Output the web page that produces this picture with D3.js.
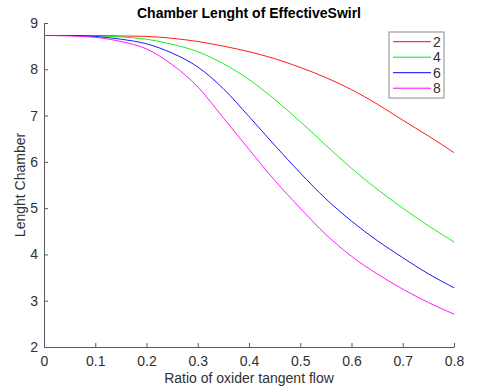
<!DOCTYPE html>
<html>
<head>
<meta charset="utf-8">
<script src="https://cdn.jsdelivr.net/npm/d3@7"></script>
<style>
    body { margin: 0; background: #fff; }
    #chart text { font-family: "Liberation Sans", Arial, sans-serif; fill: #303030; }
    .axis path, .axis line { stroke: #5a5a5a; stroke-width: 1; }
    .line { fill: none; stroke-width: 0.9; }
</style>
</head>
<body>
<div id="chart"></div>
<script>
// Chart data
const ratios = [0, 0.05, 0.1, 0.15, 0.2, 0.25, 0.3, 0.35, 0.4, 0.45, 0.5, 0.55, 0.6, 0.65, 0.7, 0.75, 0.8];
const swirl2 = [8.73, 8.73, 8.73, 8.72, 8.71, 8.67, 8.60, 8.50, 8.38, 8.23, 8.04, 7.82, 7.56, 7.25, 6.90, 6.56, 6.20];
const swirl4 = [8.73, 8.73, 8.72, 8.70, 8.65, 8.54, 8.38, 8.12, 7.78, 7.35, 6.87, 6.36, 5.86, 5.41, 5.00, 4.62, 4.27];
const swirl6 = [8.73, 8.73, 8.71, 8.65, 8.55, 8.35, 8.05, 7.58, 6.98, 6.36, 5.76, 5.20, 4.72, 4.30, 3.93, 3.58, 3.28];
const swirl8 = [8.73, 8.72, 8.69, 8.60, 8.44, 8.10, 7.62, 6.95, 6.27, 5.60, 5.00, 4.43, 3.96, 3.58, 3.25, 2.96, 2.71];
const seriesNames = ["2", "4", "6", "8"];
const seriesColors = ["#ff0000", "#00ee00", "#0000ff", "#ff00ff"];
const xTicks = [0, 0.1, 0.2, 0.3, 0.4, 0.5, 0.6, 0.7, 0.8];
const xTickLabels = ["0", "0.1", "0.2", "0.3", "0.4", "0.5", "0.6", "0.7", "0.8"];
const yTicks = [2, 3, 4, 5, 6, 7, 8, 9];
const yTickLabels = ["2", "3", "4", "5", "6", "7", "8", "9"];

const Chart = (function(d3) {
    const svgWidth = 483,
        svgHeight = 390;
    const margin = { top: 23, right: 29, bottom: 43, left: 44 };
    const width = svgWidth - margin.left - margin.right,
        height = svgHeight - margin.top - margin.bottom;

    const allSeries = [swirl2, swirl4, swirl6, swirl8].map(function(vals, i) {
        return {
            name: seriesNames[i],
            color: seriesColors[i],
            values: vals.map(function(v, j) { return { x: ratios[j], y: v }; })
        };
    });

    const svg = d3.select("#chart")
        .append("svg")
        .attr("width", svgWidth)
        .attr("height", svgHeight);

    const g = svg.append("g")
        .attr("transform", `translate(${margin.left},${margin.top})`);

    // scales
    const x = d3.scaleLinear().domain([0, 0.8]).range([0, width]);
    const y = d3.scaleLinear().domain([2, 9]).range([height, 0]);

    // axes, ticks point inward like matlab
    const xAxis = d3.axisBottom(x)
        .tickValues(xTicks)
        .tickFormat(function(d, i) { return xTickLabels[i]; })
        .tickSizeInner(-4)
        .tickSizeOuter(0)
        .tickPadding(9);
    const yAxis = d3.axisLeft(y)
        .tickValues(yTicks)
        .tickFormat(function(d, i) { return yTickLabels[i]; })
        .tickSizeInner(-4)
        .tickSizeOuter(0)
        .tickPadding(6);

    g.append("g")
        .classed("x axis", true)
        .attr("transform", `translate(0,${height})`)
        .call(xAxis);
    g.append("g")
        .classed("y axis", true)
        .call(yAxis);
    g.selectAll(".axis text").style("font-size", "14px");

    // lines
    const line = d3.line()
        .curve(d3.curveMonotoneX)
        .x(function(d) { return x(d.x); })
        .y(function(d) { return y(d.y); });

    g.selectAll(".line")
        .data(allSeries)
        .enter()
        .append("path")
        .classed("line", true)
        .attr("stroke", function(d) { return d.color; })
        .attr("d", function(d) { return line(d.values); });

    // title and axis labels
    svg.append("text")
        .attr("x", 249)
        .attr("y", 18)
        .attr("text-anchor", "middle")
        .style("font-size", "14px")
        .style("font-weight", "bold")
        .style("fill", "#000")
        .text("Chamber Lenght of EffectiveSwirl");

    svg.append("text")
        .attr("x", margin.left + width / 2)
        .attr("y", 383)
        .attr("text-anchor", "middle")
        .style("font-size", "14px")
        .text("Ratio of oxider tangent flow");

    svg.append("text")
        .attr("transform", `translate(25,${margin.top + height / 2}) rotate(-90)`)
        .attr("text-anchor", "middle")
        .style("font-size", "14px")
        .text("Lenght Chamber");

    // legend
    const legend = svg.append("g")
        .attr("transform", "translate(389,32)");
    legend.append("rect")
        .attr("width", 55)
        .attr("height", 66)
        .attr("fill", "#fff")
        .attr("stroke", "#8a8a8a")
        .attr("stroke-width", 1);
    const rows = legend.selectAll(".row")
        .data(allSeries)
        .enter()
        .append("g")
        .attr("transform", function(d, i) { return `translate(0,${9.7 + i * 15.5})`; });
    rows.append("line")
        .attr("x1", 4)
        .attr("x2", 42)
        .attr("stroke", function(d) { return d.color; })
        .attr("stroke-width", 1);
    rows.append("text")
        .attr("x", 44)
        .attr("dy", "0.35em")
        .style("font-size", "14px")
        .text(function(d) { return d.name; });

    return { svg: svg };
})(d3);
</script>
</body>
</html>
